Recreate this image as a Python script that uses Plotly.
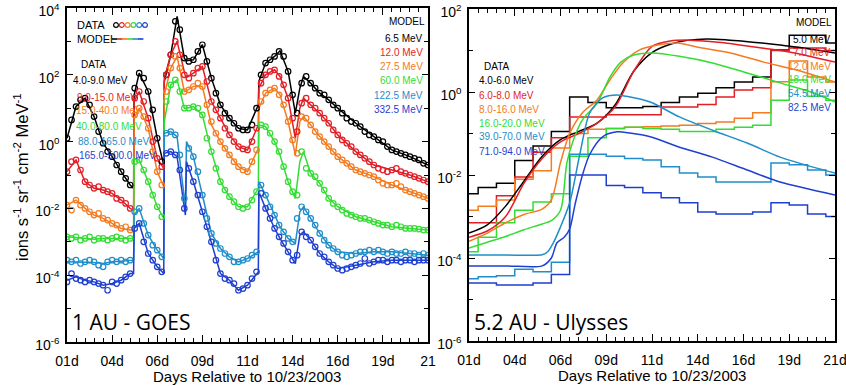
import numpy as np
import plotly.graph_objects as go

W, H = 846, 386

# ---------------- colours ----------------
C_BLACK = "#000000"
C_RED = "#e41e26"
C_ORANGE = "#f47b20"
C_GREEN = "#33dd33"
C_TEAL = "#1f8ec9"
C_BLUE = "#1f3fd1"
CH_COLORS = [C_BLACK, C_RED, C_ORANGE, C_GREEN, C_TEAL, C_BLUE]

# ---------------- 1 AU (GOES) ----------------
# observation times, days relative to 10/23/2003 (6-hour sampling)
goes_days = np.round(np.arange(1.0, 21.0 + 1e-9, 0.25), 2)

# log10 intensity (ions s-1 sr-1 cm-2 MeV-1), one value per sample
goes_4_9 = [0.10, 0.65, 1.05, 1.25, 1.30, 1.10, 0.75, 0.30,
            -0.05, -0.30, -0.45, -0.70, -0.90, -1.10, -1.30, 1.60,
            2.05, 1.90, 1.50, 0.95, 0.10, -0.60, 2.00, 2.60,
            3.60, 3.35, 2.50, 2.40, 2.45, 2.70, 2.90, 2.40,
            1.90, 1.45, 1.10, 0.85, 0.70, 0.55, 0.40, 0.35,
            0.35, 0.50, 1.00, 2.00, 2.35, 2.45, 2.55, 2.70,
            2.55, 2.10, 1.40, 0.85, 1.75, 1.95, 1.75, 1.60,
            1.45, 1.40, 1.25, 1.10, 1.00, 0.85, 0.70, 0.60,
            0.55, 0.45, 0.30, 0.20, 0.15, 0.05, 0.00, -0.15,
            -0.25, -0.30, -0.35, -0.40, -0.45, -0.50, -0.55, -0.65,
            -0.70]
goes_9_15 = [-0.90, -0.60, -0.55, -0.85, -1.20, -1.30, -1.40, -1.35,
             -1.45, -1.50, -1.55, -1.70, -1.75, -1.85, -2.00, 1.30,
             1.50, 1.20, 0.70, 0.00, -0.50, -0.75, 2.00, 2.60,
             3.00, 2.60, 2.00, 1.90, 2.05, 2.20, 2.25, 1.80,
             1.20, 0.95, 0.70, 0.40, 0.20, 0.00, -0.15, -0.22,
             -0.25, 0.00, 0.40, 1.75, 2.00, 2.10, 2.15, 1.95,
             1.70, 1.30, 0.70, 0.30, 1.15, 1.30, 1.10, 1.00,
             0.85, 0.70, 0.55, 0.35, 0.20, 0.05, -0.05, -0.15,
             -0.30, -0.40, -0.50, -0.60, -0.70, -0.80, -0.85, -0.90,
             -0.85, -0.80, -0.90, -0.95, -1.00, -1.05, -1.10, -1.15,
             -1.20]
goes_15_40 = [-1.90, -2.05, -1.75, -1.90, -2.00, -2.10, -2.20, -2.15,
              -2.30, -2.35, -2.45, -2.50, -2.60, -2.55, -2.65, 0.80,
              1.00, 0.75, 0.40, -0.30, -0.90, -1.30, 1.50, 2.20,
              2.55, 2.20, 1.50, 1.55, 1.65, 1.75, 1.65, 1.10,
              0.60, 0.25, 0.00, -0.20, -0.40, -0.60, -0.75, -0.85,
              -0.90, -0.60, -0.25, 1.20, 1.45, 1.55, 1.60, 1.40,
              1.10, 0.60, 0.05, -0.35, 0.75, 0.70, 0.50, 0.30,
              0.15, 0.00, -0.15, -0.30, -0.45, -0.55, -0.65, -0.75,
              -0.85, -0.90, -0.95, -1.00, -1.05, -1.15, -1.25, -1.30,
              -1.30, -1.25, -1.35, -1.45, -1.50, -1.55, -1.60, -1.65,
              -1.70]
goes_40_80 = [-2.85, -2.90, -2.85, -2.95, -2.90, -2.85, -2.95, -2.90,
              -2.90, -2.95, -2.90, -2.85, -2.90, -2.95, -2.90, -0.60,
              -0.55, -0.85, -1.20, -1.60, -1.95, -2.25, 1.20, 1.70,
              1.85, 1.50, 1.00, 1.00, 1.05, 1.00, 0.80, 0.10,
              -0.30, -0.80, -1.20, -1.45, -1.65, -1.80, -1.95, -2.00,
              -1.95, -1.75, -1.50, 0.50, 0.45, 0.25, 0.00, -0.30,
              -0.75, -1.20, -1.50, -1.60, -0.30, -0.80, -0.95, -1.05,
              -1.25, -1.45, -1.70, -1.85, -1.95, -2.05, -2.15, -2.20,
              -2.25, -2.30, -2.30, -2.35, -2.40, -2.45, -2.50, -2.50,
              -2.55, -2.50, -2.55, -2.60, -2.60, -2.60, -2.62, -2.65,
              -2.65]
goes_88_165 = [-3.55, -3.60, -3.55, -3.65, -3.60, -3.55, -3.60, -3.70,
               -3.75, -3.60, -3.55, -3.60, -3.55, -3.60, -3.55, -2.10,
               -2.00, -2.45, -2.80, -3.10, -3.25, -3.45, 0.25, 0.30,
               0.20, -0.40, -1.70, -0.20, -0.45, -0.90, -1.60, -2.30,
               -2.75, -3.05, -3.20, -3.35, -3.45, -3.60, -3.60, -3.55,
               -3.50, -3.40, -3.30, -1.30, -1.60, -1.95, -2.20, -2.50,
               -2.70, -2.90, -3.00, -2.30, -1.95, -2.10, -2.30, -2.50,
               -2.75, -2.95, -3.10, -3.20, -3.30, -3.40, -3.45, -3.40,
               -3.35, -3.30, -3.30, -3.25, -3.30, -3.25, -3.30, -3.35,
               -3.30, -3.35, -3.35, -3.30, -3.35, -3.35, -3.40, -3.35,
               -3.40]
goes_165_500 = [-4.20, -3.95, -4.10, -4.15, -4.20, -4.15, -4.20, -4.25,
                -4.30, -4.45, -4.20, -4.25, -4.15, -4.05, -3.95, -2.60,
                -2.45, -3.00, -3.35, -3.55, -3.75, -3.90, -0.35, -0.30,
                -0.40, -0.85, -2.00, -0.80, -1.20, -1.60, -2.10, -2.55,
                -3.00, -3.55, -3.95, -4.10, -4.15, -4.25, -4.45, -4.40,
                -4.30, -4.10, -3.90, -1.55, -2.00, -2.30, -2.60, -2.85,
                -3.05, -3.30, -3.55, -3.40, -2.70, -2.85, -2.95, -3.15,
                -3.35, -3.45, -3.60, -3.70, -3.80, -3.85, -3.80, -3.75,
                -3.70, -3.65, -3.50, -3.65, -3.60, -3.55, -3.55, -3.60,
                -3.55, -3.55, -3.60, -3.55, -3.55, -3.60, -3.55, -3.55,
                -3.55]
goes_data = [goes_4_9, goes_9_15, goes_15_40, goes_40_80, goes_88_165, goes_165_500]

# model vertices (day, log10 intensity); sharp onsets get two close vertices
model_days = [1.0, 1.5, 2.0, 2.5, 3.0, 3.5, 4.0, 4.5, 4.69, 4.72, 5.0, 5.5, 6.0,
              6.36, 6.39, 6.75, 7.1, 7.5, 7.56, 7.62, 8.0, 8.5, 9.0, 9.5, 10.0,
              10.5, 11.0, 11.6, 11.63, 12.0, 12.5, 12.8, 13.25, 13.65, 13.9, 14.1,
              14.5, 15.0, 15.5, 16.0, 17.0, 18.0, 19.0, 20.0, 21.0]
model_6p5 = [0.10, 1.05, 1.30, 0.75, -0.05, -0.45, -0.90, -1.30, -1.40, 1.40, 2.05, 1.50, 0.10,
             -0.70, 1.80, 2.60, 3.75, 2.50, 2.45, 2.42, 2.45, 2.90, 1.90, 1.10, 0.70,
             0.40, 0.35, 1.10, 1.80, 2.35, 2.55, 2.72, 2.10, 0.85, 1.60, 1.95,
             1.75, 1.45, 1.25, 1.00, 0.55, 0.15, -0.25, -0.45, -0.70]
model_12p0 = [-0.90, -0.55, -1.20, -1.40, -1.45, -1.55, -1.75, -2.00, -2.05, 1.20, 1.50, 0.70, -0.50,
              -0.80, 1.90, 2.60, 3.00, 2.00, 1.95, 1.92, 2.05, 2.25, 1.20, 0.70, 0.20,
              -0.15, -0.25, 0.50, 1.60, 2.00, 2.15, 1.95, 1.30, 0.10, 1.00, 1.30,
              1.10, 0.85, 0.55, 0.20, -0.30, -0.70, -0.85, -1.00, -1.20]
model_27p5 = [-1.90, -1.75, -2.00, -2.20, -2.30, -2.45, -2.60, -2.65, -2.65, 0.70, 1.00, 0.40, -0.90,
              -1.35, 1.40, 2.20, 2.55, 1.50, 1.50, 1.52, 1.65, 1.65, 0.50, 0.00, -0.40,
              -0.75, -0.90, -0.20, 1.00, 1.45, 1.60, 1.40, 0.60, -0.40, 0.60, 0.75,
              0.50, 0.15, -0.15, -0.45, -0.85, -1.05, -1.30, -1.50, -1.70]
model_60p0 = [-2.85, -2.88, -2.90, -2.92, -2.90, -2.90, -2.90, -2.90, -2.90, -0.50, -0.55, -1.20, -1.95,
              -2.30, 0.60, 1.70, 1.85, 1.00, 1.00, 1.00, 1.05, 0.80, -0.30, -1.20, -1.65,
              -1.95, -1.95, -1.40, 0.50, 0.45, 0.00, -0.40, -1.20, -1.70, -0.60, -0.30,
              -0.95, -1.25, -1.70, -1.95, -2.25, -2.40, -2.55, -2.60, -2.65]
model_122p5 = [-3.60, -3.60, -3.60, -3.62, -3.65, -3.60, -3.58, -3.55, -3.55, -2.20, -2.00, -2.80, -3.25,
               -3.50, 0.25, 0.30, 0.15, -1.70, -1.90, 0.00, -0.45, -1.60, -2.75, -3.20, -3.45,
               -3.60, -3.50, -3.30, -1.20, -1.60, -2.20, -2.55, -2.90, -3.05, -2.10, -1.95,
               -2.30, -2.75, -3.10, -3.30, -3.35, -3.30, -3.30, -3.35, -3.40]
model_332p5 = [-4.15, -4.05, -4.15, -4.20, -4.30, -4.25, -4.15, -3.95, -3.95, -2.60, -2.45, -3.35, -3.75,
               -3.95, -0.35, -0.30, -0.45, -2.00, -2.20, -0.60, -1.20, -2.10, -3.00, -3.95, -4.15,
               -4.45, -4.30, -3.90, -1.50, -2.00, -2.60, -2.90, -3.30, -3.65, -2.80, -2.70,
               -2.95, -3.35, -3.60, -3.80, -3.70, -3.60, -3.55, -3.55, -3.55]
goes_models = [model_6p5, model_12p0, model_27p5, model_60p0, model_122p5, model_332p5]

goes_data_labels = ["4.0-9.0 MeV", "9.0-15.0 MeV", "15.0-40.0 MeV", "40.0-80.0 MeV",
                    "88.0-165.0 MeV", "165.0-500.0 MeV"]
goes_model_labels = ["6.5 MeV", "12.0 MeV", "27.5 MeV", "60.0 MeV", "122.5 MeV", "332.5 MeV"]

# ---------------- 5.2 AU (Ulysses) ----------------
# daily averages, one value per day 1..21 (log10 intensity)
uly_days = list(range(1, 22))
uly_4_6 = [-2.45, -2.30, -2.20, -1.65, -1.30, -0.95, -0.12, -0.25, -0.38, -0.38, -0.35,
           -0.25, -0.12, -0.03, 0.10, 0.24, 0.36, 1.01, 1.37, 1.37, 1.18]
uly_6_8 = [-3.15, -3.15, -2.50, -2.05, -1.45, -1.10, -0.60, -0.60, -0.55, -0.55, -0.55,
           -0.36, -0.36, -0.30, -0.12, 0.05, 0.10, 1.00, 1.06, 1.06, 1.00]
uly_8_16 = [-2.85, -2.75, -2.60, -2.10, -1.90, -1.35, -1.00, -0.90, -0.88, -0.85, -0.84,
            -0.82, -0.80, -0.76, -0.72, -0.63, -0.50, 0.25, 0.75, 0.36, 0.24]
uly_16_20 = [-3.85, -3.50, -3.15, -2.85, -2.65, -2.45, -1.55, -1.10, -0.88, -0.85, -0.88,
             -0.90, -0.95, -0.95, -0.90, -0.85, -0.80, -0.20, 0.29, -0.10, -0.20]
uly_39_70 = [-4.50, -4.45, -4.43, -4.27, -4.33, -4.10, -1.50, -1.50, -1.55, -1.60, -1.64,
             -1.80, -1.95, -2.05, -2.17, -2.17, -2.17, -1.71, -1.75, -1.88, -2.00]
uly_71_94 = [-4.60, -4.60, -4.65, -4.65, -4.60, -4.40, -2.00, -2.00, -2.25, -2.30, -2.43,
             -2.55, -2.67, -2.89, -2.94, -2.94, -2.89, -2.67, -2.72, -2.94, -3.00]
uly_data = [uly_4_6, uly_6_8, uly_8_16, uly_16_20, uly_39_70, uly_71_94]

# model curves: (days, log10 intensity)
uly_m5_days = [1, 2, 3, 4, 5, 6, 7, 8, 9, 10, 11, 12, 13, 14, 15, 16, 17, 18, 19, 20, 21]
uly_m5 = [-3.40, -3.20, -2.75, -2.15, -1.55, -1.15, -0.95, -0.75, -0.30, 0.50, 0.95,
          1.15, 1.25, 1.28, 1.26, 1.22, 1.18, 1.13, 1.08, 1.01, 0.94]
uly_m7_days = [1, 2, 3, 4, 5, 6, 7, 8, 9, 10, 11, 12, 13, 14, 15, 16, 17, 18, 19, 20, 21]
uly_m7 = [-3.50, -3.35, -3.00, -2.20, -1.60, -1.20, -1.00, -0.75, -0.35, 0.50, 1.10,
          1.23, 1.25, 1.22, 1.18, 1.12, 1.06, 1.00, 0.92, 0.82, 0.72]
uly_m12_days = [1, 2, 3, 4, 5, 5.5, 6, 6.5, 7.2, 8, 8.7, 9.4, 10.3, 11.3, 12.4, 13.5,
                15.3, 17.1, 18.9, 21]
uly_m12 = [-3.60, -3.40, -3.15, -2.95, -2.82, -2.60, -1.70, -1.00, -0.50, -0.19, 0.29,
           0.70, 1.01, 1.13, 1.18, 1.08, 0.94, 0.72, 0.53, 0.24]
uly_m18_days = [1, 2, 3, 4, 5, 5.5, 6, 6.35, 6.7, 7.2, 8, 8.7, 9.3, 10, 11, 12.5, 14.3,
                16.2, 18, 19.8, 21]
uly_m18 = [-3.76, -3.62, -3.48, -3.32, -3.18, -3.10, -2.85, -1.70, -1.16, -0.67, -0.27,
           0.36, 0.72, 0.89, 0.94, 0.86, 0.70, 0.46, 0.22, -0.02, -0.24]
uly_m54_days = [1, 3, 5.0, 5.3, 5.6, 6.0, 6.5, 7.07, 7.6, 8.3, 9.1, 9.8, 10.9, 12.5,
                14.3, 16.2, 18, 19.8, 21]
uly_m54 = [-3.93, -3.93, -3.92, -3.85, -3.64, -3.25, -2.67, -1.47, -0.50, -0.14, -0.07,
           -0.12, -0.24, -0.60, -0.92, -1.23, -1.57, -1.81, -1.95]
uly_m82_days = [1, 3, 5.0, 5.5, 5.8, 6.2, 6.5, 6.8, 7.2, 7.6, 8.3, 9.1, 9.8, 10.9, 12.5,
                14.3, 16.2, 18, 21]
uly_m82 = [-4.19, -4.19, -4.19, -4.00, -3.64, -3.50, -3.30, -2.70, -2.00, -1.50, -1.08,
           -0.96, -0.99, -1.08, -1.33, -1.57, -1.88, -2.17, -2.48]
uly_models = [(uly_m5_days, uly_m5), (uly_m7_days, uly_m7), (uly_m12_days, uly_m12),
              (uly_m18_days, uly_m18), (uly_m54_days, uly_m54), (uly_m82_days, uly_m82)]

uly_data_labels = ["4.0-6.0 MeV", "6.0-8.0 MeV", "8.0-16.0 MeV", "16.0-20.0 MeV",
                   "39.0-70.0 MeV", "71.0-94.0 MeV"]
uly_model_labels = ["5.0 MeV", "7.0 MeV", "12.0 MeV", "18.0 MeV", "54.5 MeV", "82.5 MeV"]

day_ticks = [1, 3.5, 6, 8.5, 11, 13.5, 16, 18.5, 21]
day_ticktext_goes = ["01d", "04d", "06d", "09d", "11d", "14d", "16d", "19d", "21"]
day_ticktext_uly = ["01d", "04d", "06d", "09d", "11d", "14d", "16d", "19d", "21d"]


def pow10(v):
    return [10.0 ** x for x in v]


def fx(x):  # pixel -> paper x
    return x / W


def fy(y):  # pixel -> paper y
    return 1 - y / H


fig = go.Figure()

# GOES: model lines then observed points
for vals, col in zip(goes_models, CH_COLORS):
    fig.add_trace(go.Scatter(x=model_days, y=pow10(vals), mode="lines",
                             line=dict(color=col, width=1.5), xaxis="x", yaxis="y",
                             showlegend=False, hoverinfo="skip"))
for vals, col in zip(goes_data, CH_COLORS):
    fig.add_trace(go.Scatter(x=goes_days, y=pow10(vals), mode="markers",
                             marker=dict(symbol="circle-open", size=5.5, color=col,
                                         line=dict(color=col, width=1.2)),
                             xaxis="x", yaxis="y", showlegend=False, hoverinfo="skip"))

# Ulysses: daily histograms and model curves
for vals, col in zip(uly_data, CH_COLORS):
    fig.add_trace(go.Scatter(x=uly_days, y=pow10(vals), mode="lines",
                             line=dict(color=col, width=1.5, shape="hvh"),
                             xaxis="x2", yaxis="y2", showlegend=False, hoverinfo="skip"))
for (d, vals), col in zip(uly_models, CH_COLORS):
    fig.add_trace(go.Scatter(x=d, y=pow10(vals), mode="lines",
                             line=dict(color=col, width=1.5, shape="spline", smoothing=0.8),
                             xaxis="x2", yaxis="y2", showlegend=False, hoverinfo="skip"))

ytick_goes = [1e-6, 1e-4, 1e-2, 1, 1e2, 1e4]
ytick_goes_text = ["10<sup>-6</sup>", "10<sup>-4</sup>", "10<sup>-2</sup>", "10<sup>0</sup>",
                   "10<sup>2</sup>", "10<sup>4</sup>"]
yminor_goes = [1e-5, 1e-3, 1e-1, 1e1, 1e3]
ytick_uly = [1e-6, 1e-4, 1e-2, 1, 1e2]
ytick_uly_text = ["10<sup>-6</sup>", "10<sup>-4</sup>", "10<sup>-2</sup>", "10<sup>0</sup>",
                  "10<sup>2</sup>"]
yminor_uly = [1e-5, 1e-3, 1e-1, 1e1]

tickfont = dict(family="Liberation Sans, Arial, sans-serif", size=14, color="black")
xcommon = dict(range=[1, 21], tickmode="array", tickvals=day_ticks, ticks="inside",
               ticklen=7, tickwidth=1.2, tickcolor="black", showline=True, linewidth=1.5,
               linecolor="black", mirror="ticks", showgrid=False, zeroline=False,
               tickfont=tickfont, ticklabelstandoff=5, automargin=False,
               ticklabeloverflow="allow",
               minor=dict(dtick=0.5, tick0=1, ticklen=4, ticks="inside", tickcolor="black",
                          tickwidth=1))
ycommon = dict(type="log", tickmode="array", ticks="inside", ticklen=6, tickwidth=1.2,
               tickcolor="black", showline=True, linewidth=1.5, linecolor="black",
               mirror="ticks", showgrid=False, zeroline=False, tickfont=tickfont,
               ticklabelstandoff=3, ticklabelshift=3, automargin=False,
               ticklabeloverflow="allow")

fig.update_layout(
    width=W, height=H, margin=dict(l=0, r=0, t=0, b=0, autoexpand=False),
    paper_bgcolor="white", plot_bgcolor="white", showlegend=False,
    xaxis=dict(domain=[fx(67), fx(428)], ticktext=day_ticktext_goes, anchor="y", **xcommon),
    yaxis=dict(domain=[fy(342), fy(8)], range=[-6, 4], tickvals=ytick_goes,
               ticktext=ytick_goes_text, anchor="x",
               minor=dict(tickmode="array", tickvals=yminor_goes, ticklen=4,
                          ticks="inside", tickcolor="black"), **ycommon),
    xaxis2=dict(domain=[fx(469), fx(835)], ticktext=day_ticktext_uly, anchor="y2", **xcommon),
    yaxis2=dict(domain=[fy(341), fy(9)], range=[-6, 2], tickvals=ytick_uly,
                ticktext=ytick_uly_text, anchor="x2",
                minor=dict(tickmode="array", tickvals=yminor_uly, ticklen=4,
                           ticks="inside", tickcolor="black"), **ycommon),
)

ann = []
font_txt = "Liberation Sans, Arial, sans-serif"


def label(x, y, text, color="black", size=10, xanchor="left", **kw):
    ann.append(dict(x=fx(x), y=fy(y), xref="paper", yref="paper", text=text,
                    showarrow=False, xanchor=xanchor, yanchor="middle", borderpad=0,
                    font=dict(family=font_txt, size=size, color=color), **kw))


# axis titles
label(21, 177, "ions s<sup>-1</sup> sr<sup>-1</sup> cm<sup>-2</sup> MeV<sup>-1</sup>",
      size=16.5, xanchor="center", textangle=-90)
label(247, 376, "Days Relative to 10/23/2003", size=15, xanchor="center")
label(652, 375, "Days Relative to 10/23/2003", size=15, xanchor="center")

# panel captions
ann.append(dict(x=fx(71), y=fy(322), xref="paper", yref="paper", text="1 AU - GOES",
                showarrow=False, xanchor="left", yanchor="middle", borderpad=0,
                font=dict(family="Open Sans, sans-serif", size=21, color="black")))
ann.append(dict(x=fx(473), y=fy(322), xref="paper", yref="paper", text="5.2 AU - Ulysses",
                showarrow=False, xanchor="left", yanchor="middle", borderpad=0,
                font=dict(family="Open Sans, sans-serif", size=21, color="black")))

# GOES key
label(76, 25, "DATA", size=11)
label(76, 39, "MODEL", size=11)
label(80, 65, "DATA", size=10)
goes_key_x = [72, 76, 75, 75, 77, 78]
goes_key_y = [81, 97, 110, 126, 141, 155]
for x, y, t, c in zip(goes_key_x, goes_key_y, goes_data_labels, CH_COLORS):
    label(x, y, t, color=c)
label(426, 22, "MODEL", size=10, xanchor="right")
for i, (t, c) in enumerate(zip(goes_model_labels, CH_COLORS)):
    label(424, 38 + 14.3 * i, t, color=c, xanchor="right")

# Ulysses key
label(483, 67, "DATA", size=10)
for i, (t, c) in enumerate(zip(uly_data_labels, CH_COLORS)):
    label(478, 81 + 14 * i, t, color=c)
label(833, 23, "MODEL", size=10, xanchor="right")
for i, (t, c) in enumerate(zip(uly_model_labels, CH_COLORS)):
    label(832, 39 + 13.6 * i, t, color=c, xanchor="right")

# key symbols next to DATA / MODEL
shapes = []
for i, c in enumerate(CH_COLORS):
    cx = 116 + 5.8 * i
    shapes.append(dict(type="circle", xref="paper", yref="paper",
                       x0=fx(cx - 2.4), x1=fx(cx + 2.4), y0=fy(25 + 2.4), y1=fy(25 - 2.4),
                       line=dict(color=c, width=1.2)))
for i, c in enumerate(CH_COLORS):
    x0 = 112 + 5.2 * i
    shapes.append(dict(type="line", xref="paper", yref="paper",
                       x0=fx(x0), x1=fx(x0 + 5.4), y0=fy(39), y1=fy(39),
                       line=dict(color=c, width=1.6)))

fig.update_layout(annotations=ann, shapes=shapes)
fig.write_html("out.html")
